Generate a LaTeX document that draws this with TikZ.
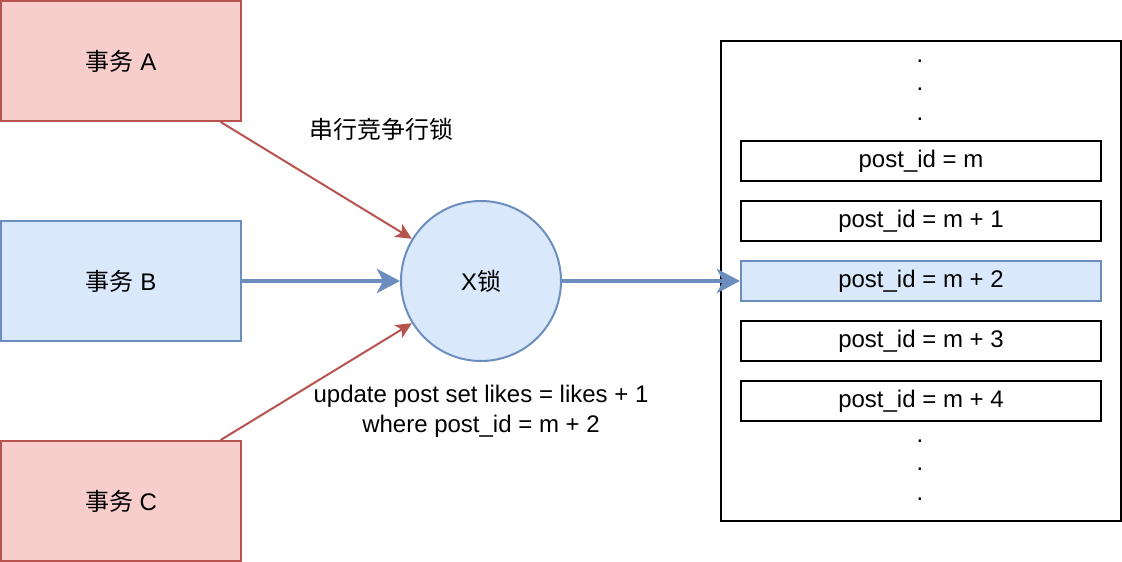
\documentclass[tikz,border=0pt]{standalone}
\usepackage{fontspec}
\setmainfont{Liberation Sans}
\newfontfamily\cjk{Noto Sans CJK SC}
\usetikzlibrary{arrows.meta}
\definecolor{redfill}{HTML}{F8CECC}
\definecolor{redline}{HTML}{B85450}
\definecolor{bluefill}{HTML}{DAE8FC}
\definecolor{blueline}{HTML}{6C8EBF}
\tikzset{
    txbox/.style={draw, line width=2pt, minimum width=240pt, minimum height=120pt},
    redbox/.style={txbox, draw=redline, fill=redfill},
    bluebox/.style={txbox, draw=blueline, fill=bluefill},
    row/.style={draw=black, line width=2pt, minimum width=360pt, minimum height=40pt, fill=white},
    hitrow/.style={row, draw=blueline, fill=bluefill},
    redarr/.style={draw=redline, line width=2pt, -{Stealth[length=16pt,width=15pt,inset=4pt]}},
    bluearr/.style={draw=blueline, line width=4pt, -{Stealth[length=23pt,width=24pt,inset=6pt]}},
}
\begin{document}
\begin{tikzpicture}[x=1pt, y=-1pt, font=\fontsize{24}{30}\selectfont]
    \useasboundingbox (0,0) rectangle (1122,562);
    \node [redbox] (A) at (121,61) {{\cjk 事务} A};
    \node [bluebox] (B) at (121,281) {{\cjk 事务} B};
    \node [redbox] (C) at (121,501) {{\cjk 事务} C};
    \node [circle, draw=blueline, fill=bluefill, line width=2pt, minimum size=160pt] (X) at (481,281) {X{\cjk 锁}};
    \node [draw, line width=2pt, minimum width=400pt, minimum height=480pt] (tbl) at (921,281) {};
    \foreach \i/\lbl/\sty in {0/m/row, 1/m + 1/row, 2/m + 2/hitrow, 3/m + 3/row, 4/m + 4/row}
    {
        \node [\sty] (row\i) at (921,161+60*\i) {post\_id = \lbl};
    }
    \foreach \i/\y in {1/62.5,2/90.5,3/120.5,4/442.5,5/470.5,6/500.5}
        \node [inner sep=0pt, anchor=base] (dot\i) at (920,\y) {.};
    \draw [redarr] (A) -- (X);
    \draw [bluearr] (B) -- (X);
    \draw [redarr] (C) -- (X);
    \draw [bluearr] (X) -- (row2);
    \node (lock) at (381,129) {\cjk 串行竞争行锁};
    \node [align=center] (sql) at (481,411) {update post set likes = likes + 1\\where post\_id = m + 2};
\end{tikzpicture}
\end{document}
